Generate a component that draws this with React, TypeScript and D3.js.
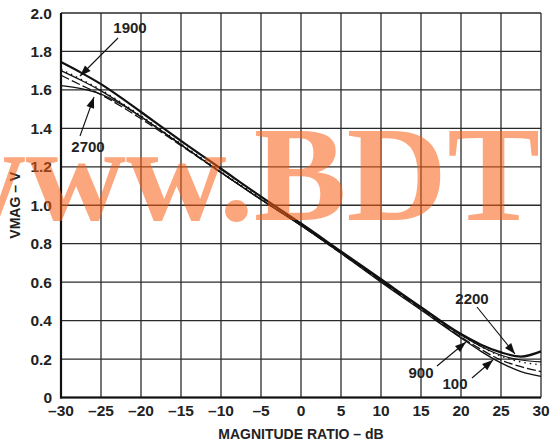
import React from "react";
import * as d3 from "d3";

const xTicks = [-30, -25, -20, -15, -10, -5, 0, 5, 10, 15, 20, 25, 30];
const yTicks = [0, 0.2, 0.4, 0.6, 0.8, 1.0, 1.2, 1.4, 1.6, 1.8, 2.0];
const yTickLabels = ["0", "0.2", "0.4", "0.6", "0.8", "1.0", "1.2", "1.4", "1.6", "1.8", "2.0"];

const dB = [-30, -27.5, -25, -22.5, -20, -15, -10, -5, 0, 5, 10, 15, 20, 22.5, 25, 27.5, 30];
const v2200 = [1.745, 1.69, 1.63, 1.56, 1.485, 1.335, 1.19, 1.045, 0.905, 0.76, 0.615, 0.47, 0.33, 0.275, 0.235, 0.213, 0.24];
const v1900 = [1.707, 1.655, 1.6, 1.535, 1.465, 1.32, 1.175, 1.035, 0.9, 0.755, 0.61, 0.465, 0.325, 0.265, 0.215, 0.185, 0.17];
const v900 = [1.676, 1.625, 1.575, 1.515, 1.45, 1.31, 1.17, 1.03, 0.895, 0.75, 0.605, 0.46, 0.315, 0.25, 0.195, 0.16, 0.135];
const v2700 = [1.622, 1.607, 1.578, 1.525, 1.46, 1.315, 1.17, 1.03, 0.895, 0.755, 0.61, 0.465, 0.325, 0.265, 0.22, 0.195, 0.185];
const v100 = [1.7, 1.65, 1.595, 1.53, 1.46, 1.315, 1.17, 1.03, 0.895, 0.75, 0.6, 0.455, 0.31, 0.24, 0.18, 0.135, 0.11];

const series = [
  { name: "2200", values: v2200, width: 2.2, dash: "" },
  { name: "1900", values: v1900, width: 1.4, dash: "1.5 4" },
  { name: "900", values: v900, width: 1.3, dash: "9 3" },
  { name: "2700", values: v2700, width: 1.2, dash: "" },
  { name: "100", values: v100, width: 1.3, dash: "" },
];

const W = 551;
const H = 445;
const margin = { left: 61, right: 10, top: 13, bottom: 48 };

export default function App() {
  const x = d3.scaleLinear().domain([-30, 30]).range([margin.left, W - margin.right]);
  const y = d3.scaleLinear().domain([0, 2]).range([H - margin.bottom + 0.5, margin.top]);
  const line = d3
    .line<[number, number]>()
    .x((d) => x(d[0]))
    .y((d) => y(d[1]))
    .curve(d3.curveMonotoneX);

  const font = "'Liberation Sans', Arial, Helvetica, sans-serif";
  const gridColor = "#2a2a2a";

  const annotations = [
    { label: "1900", tx: 130, ty: 33, x1: 118, y1: 38, x2: 80, y2: 76 },
    { label: "2700", tx: 88, ty: 152, x1: 80, y1: 136, x2: 94, y2: 97 },
    { label: "2200", tx: 472, ty: 304, x1: 477, y1: 307, x2: 515, y2: 354 },
    { label: "900", tx: 421, ty: 378, x1: 437, y1: 366, x2: 466, y2: 342 },
    { label: "100", tx: 455, ty: 389, x1: 472, y1: 378, x2: 493, y2: 360 },
  ];

  const arrowHead = (a: typeof annotations[0]) => {
    const ang = Math.atan2(a.y2 - a.y1, a.x2 - a.x1);
    const L = 11;
    const Wd = 4;
    const bx = a.x2 - L * Math.cos(ang);
    const by = a.y2 - L * Math.sin(ang);
    const px = -Math.sin(ang) * Wd;
    const py = Math.cos(ang) * Wd;
    return `M${a.x2},${a.y2}L${bx + px},${by + py}L${bx - px},${by - py}Z`;
  };

  return (
    <svg width={W} height={H} style={{ position: "absolute", left: 0, top: 0, background: "#fff" }}>
      <rect x={0} y={0} width={W} height={H} fill="#fff" />
      {/* grid */}
      {xTicks.map((t) => (
        <line key={"gx" + t} x1={x(t)} x2={x(t)} y1={y(0)} y2={y(2)} stroke={gridColor} strokeWidth={1.3} />
      ))}
      {yTicks.map((t) => (
        <line key={"gy" + t} x1={x(-30)} x2={x(30)} y1={y(t)} y2={y(t)} stroke={gridColor} strokeWidth={1.3} />
      ))}
      <line x1={x(-30)} x2={x(-30)} y1={y(0) + 1} y2={y(2)} stroke="#111" strokeWidth={2.2} />
      <line x1={x(-30) - 1} x2={x(30)} y1={y(0)} y2={y(0)} stroke="#111" strokeWidth={2.2} />

      {/* curves */}
      {series.map((s) => (
        <path
          key={s.name}
          d={line(dB.map((d, i) => [d, s.values[i]] as [number, number])) || ""}
          fill="none"
          stroke="#111"
          strokeWidth={s.width}
          strokeDasharray={s.dash || undefined}
        />
      ))}

      {/* tick labels */}
      {yTicks.map((t, i) => (
        <text
          key={"yl" + t}
          x={52}
          y={y(t)}
          dy="0.36em"
          textAnchor="end"
          fontFamily={font}
          fontWeight="bold"
          fontSize={15.5}
          fill="#222"
        >
          {yTickLabels[i]}
        </text>
      ))}
      {xTicks.map((t) => (
        <text
          key={"xl" + t}
          x={x(t)}
          y={416}
          textAnchor="middle"
          fontFamily={font}
          fontWeight="bold"
          fontSize={15.5}
          fill="#222"
        >
          {t < 0 ? "\u2013" + Math.abs(t) : String(t)}
        </text>
      ))}
      <text x={x(0)} y={439} textAnchor="middle" fontFamily={font} fontWeight="bold" fontSize={14} fill="#222">
        MAGNITUDE RATIO – dB
      </text>
      <text
        transform={`translate(20,${(y(0) + y(2)) / 2}) rotate(-90)`}
        textAnchor="middle"
        fontFamily={font}
        fontWeight="bold"
        fontSize={14}
        fill="#222"
      >
        VMAG – V
      </text>

      {/* annotations */}
      {annotations.map((a) => (
        <g key={"an" + a.label}>
          <line x1={a.x1} y1={a.y1} x2={a.x2} y2={a.y2} stroke="#111" strokeWidth={1.1} />
          <path d={arrowHead(a)} fill="#111" />
          <text x={a.tx} y={a.ty} textAnchor="middle" fontFamily={font} fontWeight="bold" fontSize={15} fill="#222">
            {a.label}
          </text>
        </g>
      ))}

      {/* watermark */}
      <text
        x={-75}
        y={220}
        fontFamily="'Liberation Serif', 'Times New Roman', serif"
        fontWeight="bold"
        fontSize={135}
        textLength={615}
        lengthAdjust="spacingAndGlyphs"
        fill="rgb(247,92,16)"
        fillOpacity={0.55}
      >
        www.BDT
      </text>
    </svg>
  );
}
